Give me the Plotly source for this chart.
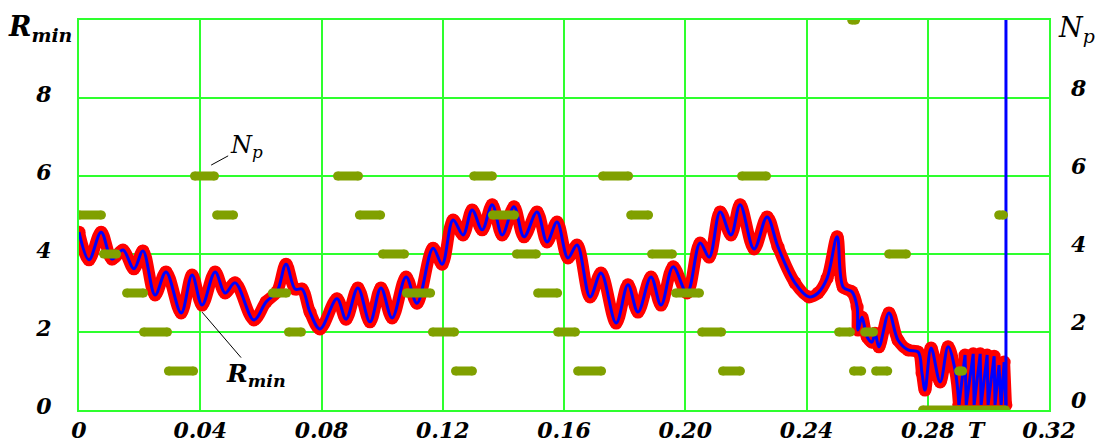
import plotly.graph_objects as go

# ---- R_min(t): minimum radius, sampled at the extrema and bends of the curve ----
t_rmin = [
    0.0000, 0.0033, 0.0073, 0.0109, 0.0145, 0.0181, 0.0211, 0.0251, 0.0287, 0.0337,
    0.0373, 0.0406, 0.0449, 0.0482, 0.0515, 0.0577, 0.0617, 0.0653, 0.0683, 0.0713,
    0.0736, 0.0762, 0.0795, 0.0851, 0.0881, 0.0920, 0.0960, 0.0996, 0.1033, 0.1079,
    0.1115, 0.1168, 0.1198, 0.1234, 0.1267, 0.1297, 0.1330, 0.1363, 0.1396, 0.1435,
    0.1468, 0.1511, 0.1544, 0.1577, 0.1613, 0.1643, 0.1686, 0.1722, 0.1772, 0.1811,
    0.1844, 0.1887, 0.1920, 0.1960, 0.2006, 0.2049, 0.2079, 0.2115, 0.2151, 0.2181,
    0.2227, 0.2270, 0.2306, 0.2362, 0.2408, 0.2438, 0.2468, 0.2501, 0.2521, 0.2550,
    0.2567, 0.2570, 0.2583, 0.2600, 0.2616, 0.2626, 0.2639, 0.2672, 0.2702, 0.2735,
    0.2768, 0.2781, 0.2791, 0.2811, 0.2841, 0.2867, 0.2890, 0.2903,
    0.2923, 0.2927, 0.2950, 0.2953, 0.2973, 0.2976, 0.2996, 0.2999, 0.3019, 0.3022,
    0.3035, 0.3042, 0.3052, 0.3058,
]
rmin = [
    4.56, 3.85, 4.56, 3.87, 4.10, 3.62, 4.08, 2.95, 3.54, 2.49,
    3.46, 2.69, 3.54, 3.00, 3.26, 2.31, 2.77, 3.03, 3.74, 3.10,
    3.10, 2.51, 2.08, 2.85, 2.33, 3.13, 2.26, 3.13, 2.36, 3.41,
    2.74, 4.15, 3.74, 4.87, 4.49, 5.13, 4.62, 5.26, 4.49, 5.21,
    4.44, 5.08, 4.31, 4.82, 3.90, 4.23, 2.90, 3.51, 2.23, 3.21,
    2.51, 3.41, 2.69, 3.67, 3.00, 4.28, 3.92, 5.08, 4.49, 5.26,
    4.13, 4.95, 4.18, 3.26, 2.90, 3.00, 3.38, 4.44, 3.15, 3.03,
    2.64, 2.05, 2.38, 1.87, 1.74, 1.97, 1.62, 2.49, 1.79, 1.54,
    1.49, 0.95, 0.51, 1.59, 0.72, 1.62, 1.03, 0.13,
    1.41, 0.13, 1.44, 0.13, 1.44, 0.13, 1.41, 0.13, 1.38, 0.13,
    1.15, 0.13, 1.23, 0.13,
]

T_SMOOTH_END = 0.2903   # beyond this the curve oscillates too fast to smooth
T_END = 0.3058          # end of the computed interval (R_min diverges)
T_MARK = 0.296          # period T marked on the time axis

# ---- N_p(t): piecewise-constant count, one entry per constant run ----
np_start = [
    0.0000, 0.0081, 0.0157, 0.0213, 0.0295, 0.0381, 0.0454, 0.0638, 0.0691, 0.0853,
    0.0925, 0.1001, 0.1080, 0.1166, 0.1242, 0.1302, 0.1364, 0.1443, 0.1513, 0.1579,
    0.1645, 0.1727, 0.1820, 0.1889, 0.1968, 0.2054, 0.2123, 0.2186, 0.2506, 0.2549,
    0.2555, 0.2592, 0.2628, 0.2671, 0.2783, 0.2902, 0.3034,
]
np_end = [
    0.0074, 0.0124, 0.0213, 0.0292, 0.0378, 0.0447, 0.0510, 0.0685, 0.0734, 0.0922,
    0.0995, 0.1074, 0.1160, 0.1239, 0.1298, 0.1364, 0.1437, 0.1509, 0.1579, 0.1638,
    0.1724, 0.1813, 0.1879, 0.1958, 0.2047, 0.2120, 0.2182, 0.2268, 0.2545, 0.2562,
    0.2582, 0.2621, 0.2668, 0.2730, 0.3057, 0.2915, 0.3050,
]
np_level = [
    5, 4, 3, 2, 1, 6, 5, 3, 2, 6,
    5, 4, 3, 2, 1, 6, 5, 4, 3, 2,
    1, 6, 5, 4, 3, 2, 1, 6, 2, 10,
    1, 2, 1, 4, 0, 1, 5,
]

x_tickvals = [0, 0.04, 0.08, 0.12, 0.16, 0.20, 0.24, 0.28, T_MARK, 0.32]
x_ticktext = ["0", "0.04", "0.08", "0.12", "0.16", "0.20", "0.24", "0.28", "T", "0.32"]
y_tickvals = [0, 2, 4, 6, 8]

GRID = "#2eff2e"
RED = "#ff0000"
BLUE = "#0000ff"
OLIVE = "#80a000"
SERIF = "DejaVu Serif"
tick_font = dict(family=SERIF, size=22, color="black", weight="bold", style="italic")

# split the R_min samples into the smooth part and the fast-oscillating tail
i_tail = next(i for i, t in enumerate(t_rmin) if t >= T_SMOOTH_END)
t_main, r_main = t_rmin[:i_tail + 1], rmin[:i_tail + 1]
t_tail, r_tail = t_rmin[i_tail:], rmin[i_tail:]

# N_p runs as separated horizontal strokes
np_x, np_y = [], []
for s, e, v in zip(np_start, np_end, np_level):
    np_x += [s, e, None]
    np_y += [v, v, None]

fig = go.Figure()

# red band of R_min samples
for tx, ry, shape in ((t_main, r_main, "spline"), (t_tail, r_tail, "linear")):
    fig.add_trace(go.Scatter(
        x=tx, y=ry, mode="lines+markers", line=dict(color=RED, width=12, shape=shape),
        marker=dict(color=RED, size=13), showlegend=False, hoverinfo="skip"))
# blue R_min line on top of the band
for tx, ry, shape in ((t_main, r_main, "spline"), (t_tail, r_tail, "linear")):
    fig.add_trace(go.Scatter(
        x=tx, y=ry, mode="lines", line=dict(color=BLUE, width=3, shape=shape),
        showlegend=False, hoverinfo="skip"))

# N_p on the right-hand axis
fig.add_trace(go.Scatter(
    x=np_x, y=np_y, yaxis="y2", mode="lines+markers",
    line=dict(color=OLIVE, width=9), marker=dict(color=OLIVE, size=9),
    connectgaps=False, showlegend=False, hoverinfo="skip"))

# divergence of R_min at the end of the interval
fig.add_trace(go.Scatter(
    x=[T_END, T_END], y=[0, 10], mode="lines", line=dict(color=BLUE, width=3),
    showlegend=False, hoverinfo="skip"))

fig.update_layout(
    width=1097, height=443,
    margin=dict(l=79, r=48, t=20, b=33),
    paper_bgcolor="white", plot_bgcolor="white",
    xaxis=dict(
        range=[0, 0.32], tickvals=x_tickvals, ticktext=x_ticktext, tickfont=tick_font,
        showgrid=False, zeroline=False, showline=True, mirror=True, automargin=False,
        linecolor=GRID, linewidth=2, ticks="", ticklabelstandoff=0,
        minor=dict(tick0=0, dtick=0.04, showgrid=True, gridcolor=GRID, gridwidth=2, ticks=""),
    ),
    yaxis=dict(
        range=[0, 10], tickvals=y_tickvals, tickfont=tick_font, automargin=False,
        showgrid=True, gridcolor=GRID, gridwidth=2, zeroline=False,
        showline=True, mirror=True, linecolor=GRID, linewidth=2, ticks="",
        ticklabelstandoff=21, ticklabelshift=-4,
    ),
    yaxis2=dict(
        range=[0, 10], tickvals=y_tickvals, tickfont=tick_font, overlaying="y", side="right",
        showgrid=False, zeroline=False, showline=False, ticks="", automargin=False,
        ticklabelstandoff=21, ticklabelshift=-10,
    ),
    annotations=[
        dict(xref="paper", yref="paper", x=-0.040, y=1.028, xanchor="center",
             showarrow=False,
             text="<b><i>R</i></b><sub><b><i>min</i></b></sub>",
             font=dict(family=SERIF, size=27, color="black")),
        dict(xref="paper", yref="paper", x=1.028, y=1.026, xanchor="center",
             showarrow=False,
             text="<i>N</i><sub><i>p</i></sub>",
             font=dict(family=SERIF, size=27, color="black")),
        dict(x=0.0406, y=2.51, ax=54, ay=63, showarrow=True, arrowhead=0,
             arrowwidth=1, arrowcolor="black",
             text="<b><i>R</i></b><sub><b><i>min</i></b></sub>",
             font=dict(family=SERIF, size=25, color="black")),
        dict(x=0.0436, y=6.28, ax=35, ay=-19, showarrow=True, arrowhead=0,
             arrowwidth=1, arrowcolor="black",
             text="<i>N</i><sub><i>p</i></sub>",
             font=dict(family=SERIF, size=24, color="black")),
    ],
)

fig.write_html("out.html")
